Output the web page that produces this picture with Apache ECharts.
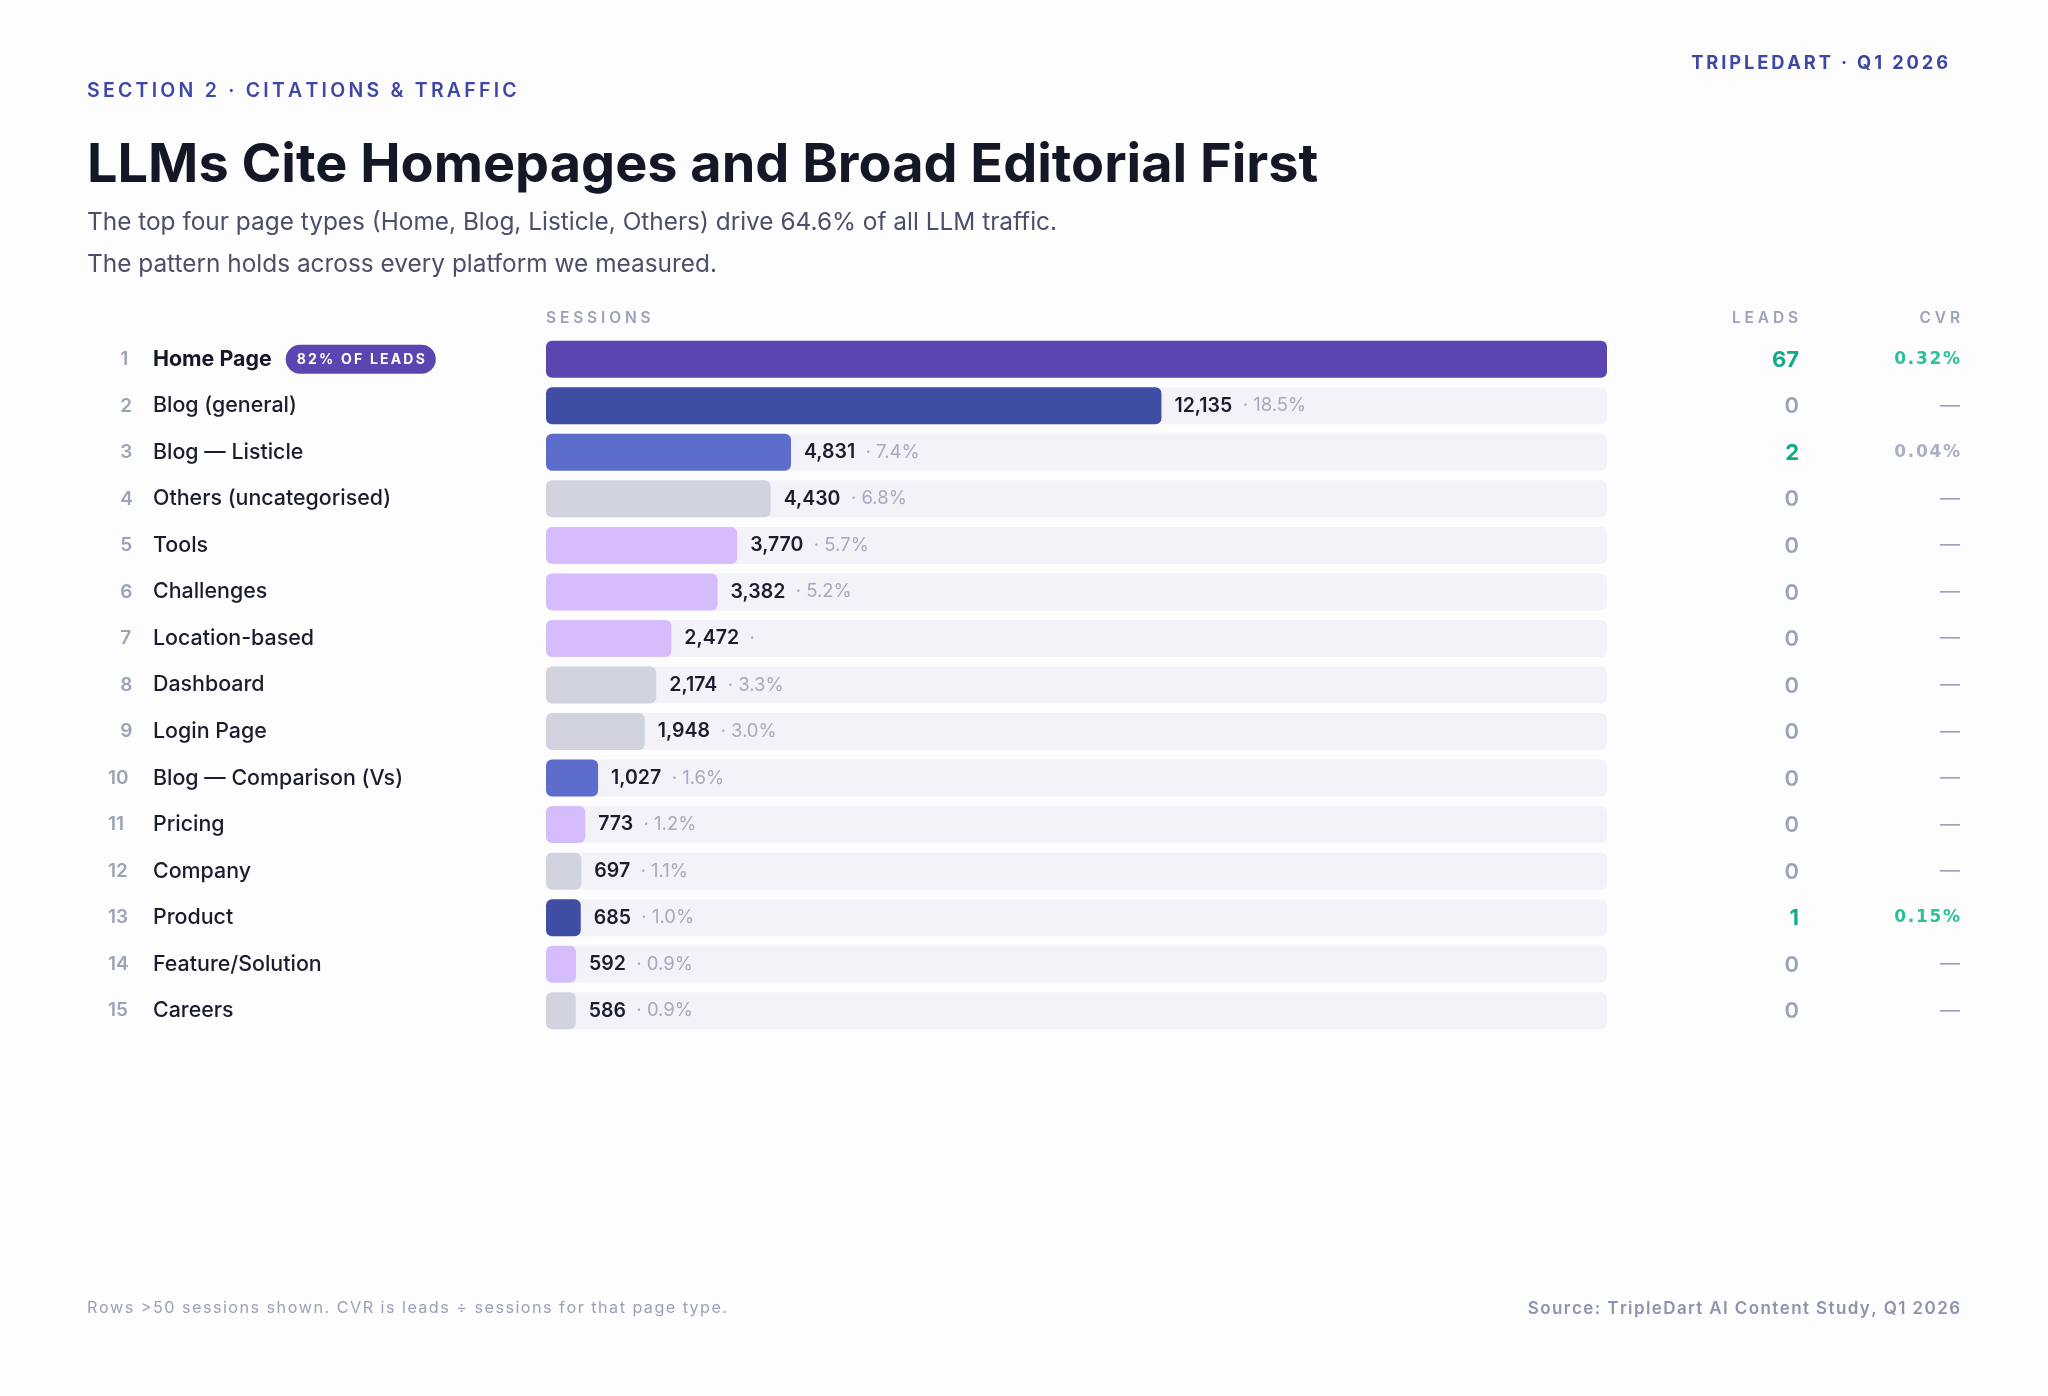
<!DOCTYPE html>
<html>
<head>
<meta charset="utf-8">
<script src="https://cdn.jsdelivr.net/npm/echarts@6/dist/echarts.min.js"></script>
<style>
  html, body { margin: 0; padding: 0; background: #fdfdfe; }
  #chart { width: 2048px; height: 1396px; }
</style>
</head>
<body>
<div id="chart"></div>
<script>
// Page types, ordered by sessions
const pageTypes = [
  'Home Page', 'Blog (general)', 'Blog — Listicle', 'Others (uncategorised)', 'Tools',
  'Challenges', 'Location-based', 'Dashboard', 'Login Page', 'Blog — Comparison (Vs)',
  'Pricing', 'Company', 'Product', 'Feature/Solution', 'Careers'
];
const pageGroup = [
  'home', 'blog', 'blogSub', 'other', 'tool',
  'tool', 'tool', 'other', 'other', 'blogSub',
  'tool', 'other', 'blog', 'tool', 'other'
];
const sessions = [20920, 12135, 4831, 4430, 3770, 3382, 2472, 2174, 1948, 1027, 773, 697, 685, 592, 586];
const sharePct = ['', '18.5%', '7.4%', '6.8%', '5.7%', '5.2%', '', '3.3%', '3.0%', '1.6%', '1.2%', '1.1%', '1.0%', '0.9%', '0.9%'];
const leads = [67, 0, 2, 0, 0, 0, 0, 0, 0, 0, 0, 0, 1, 0, 0];
const cvr = ['0.32%', '—', '0.04%', '—', '—', '—', '—', '—', '—', '—', '—', '—', '0.15%', '—', '—'];
const homeBadge = '82% OF LEADS';

const palette = {
  home: '#5b45b0',
  blog: '#3f4ea3',
  blogSub: '#5d6dcb',
  other: '#d1d3df',
  tool: '#d5bdfb'
};

const FONT = 'Inter, "Noto Sans", sans-serif';
const HAIR = '\u200A';
const THIN = '\u2009';
const spaced = (s, sp) => s.split('').join(sp);

const chart = echarts.init(document.getElementById('chart'));

const numFmt = v => v.toLocaleString('en-US');

chart.setOption({
  backgroundColor: '#fdfdfe',
  animation: false,
  textStyle: { fontFamily: FONT },
  grid: { left: 546, top: 336, width: 1061, height: 698, containLabel: false },
  xAxis: { type: 'value', min: 0, max: Math.max(...sessions), show: false },
  yAxis: [
    {
      type: 'category', data: pageTypes, inverse: true,
      axisLine: { show: false }, axisTick: { show: false },
      axisLabel: {
        align: 'left', margin: 438,
        formatter: (v, i) => {
          const rank = i < 9 ? '\u2007' + (i + 1) : String(i + 1);
          const n = `{num|${rank}}`;
          if (i === 0) return `${n}{nameB|${v}}{gap|\u00a0}{badge|${spaced(homeBadge, THIN)}}`;
          return `${n}{name|${v}}`;
        },
        rich: {
          num: { width: 22, fontSize: 19, fontWeight: 600, color: '#9aa3b8', fontFamily: FONT },
          name: { fontSize: 21.4, fontWeight: 500, color: '#1a1d2e', padding: [0, 0, 0, 23], fontFamily: FONT },
          nameB: { fontSize: 21.4, fontWeight: 700, color: '#141726', padding: [0, 0, 0, 23], fontFamily: FONT },
          gap: { width: 14, fontSize: 10 },
          badge: {
            fontSize: 14, fontWeight: 700, color: '#ffffff', backgroundColor: '#5b45b0',
            borderRadius: 15, padding: [8, 11, 7, 11], fontFamily: FONT
          }
        }
      }
    },
    {
      type: 'category', data: pageTypes, inverse: true, position: 'right',
      axisLine: { show: false }, axisTick: { show: false },
      axisLabel: {
        align: 'right', margin: 192,
        formatter: (v, i) => leads[i] > 0 ? `{hi|${leads[i]}}` : `{lo|${leads[i]}}`,
        rich: {
          hi: { fontSize: 22, fontWeight: 700, color: '#14a98b', fontFamily: FONT, padding: [2, 0, 0, 0] },
          lo: { fontSize: 22, fontWeight: 600, color: '#9aa3b8', fontFamily: FONT, padding: [2, 0, 0, 0] }
        }
      }
    },
    {
      type: 'category', data: pageTypes, inverse: true, position: 'right',
      axisLine: { show: false }, axisTick: { show: false },
      axisLabel: {
        align: 'right', margin: 353,
        formatter: (v, i) => {
          if (cvr[i] === '—') return '{dash|—}';
          const t = spaced(cvr[i], HAIR);
          return parseFloat(cvr[i]) >= 0.1 ? `{hi|${t}}` : `{lo|${t}}`;
        },
        rich: {
          hi: { fontSize: 17, fontWeight: 700, color: '#2bbf9c', fontFamily: '"DejaVu Sans", sans-serif' },
          lo: { fontSize: 17, fontWeight: 700, color: '#aab0c2', fontFamily: '"DejaVu Sans", sans-serif' },
          dash: { fontSize: 20, color: '#9aa3b8', fontFamily: FONT }
        }
      }
    }
  ],
  series: [{
    type: 'bar',
    yAxisIndex: 0,
    barWidth: 37,
    data: sessions.map((v, i) => ({ value: v, itemStyle: { color: palette[pageGroup[i]] } })),
    itemStyle: { borderRadius: 6 },
    showBackground: true,
    backgroundStyle: { color: '#f3f2f9', borderRadius: 6 },
    label: {
      show: true, position: 'right', distance: 13,
      formatter: p => {
        if (p.dataIndex === 0) return '';
        const pct = sharePct[p.dataIndex];
        return `{v|${numFmt(p.value)}}{p|  · ${pct}}`;
      },
      rich: {
        v: { fontSize: 19.5, fontWeight: 600, color: '#1a1d2e', fontFamily: FONT },
        p: { fontSize: 18.5, fontWeight: 400, color: '#a5aabf', fontFamily: FONT }
      }
    }
  }],
  graphic: [
    { type: 'text', left: 87, top: 81, style: { text: spaced('SECTION 2 · CITATIONS & TRAFFIC', THIN), font: `600 19.5px ${FONT}`, fill: '#3e47a6' } },
    { type: 'text', left: 87, top: 139, style: { text: 'LLMs Cite Homepages and Broad Editorial First', font: `700 54px ${FONT}`, fill: '#141726' } },
    { type: 'text', left: 87, top: 211, style: { text: 'The top four page types (Home, Blog, Listicle, Others) drive 64.6% of all LLM traffic.', font: `400 24.4px ${FONT}`, fill: '#4b5068' } },
    { type: 'text', left: 87, top: 253, style: { text: 'The pattern holds across every platform we measured.', font: `400 24.4px ${FONT}`, fill: '#4b5068' } },
    { type: 'text', right: 100, top: 55, style: { text: spaced('TRIPLEDART · Q1 2026', THIN), font: `700 18.3px ${FONT}`, fill: '#3e47a6' } },
    { type: 'text', left: 546, top: 310, style: { text: spaced('SESSIONS', THIN + HAIR), font: `600 15.5px ${FONT}`, fill: '#9ba1b6' } },
    { type: 'text', right: 250, top: 310, style: { text: spaced('LEADS', THIN + HAIR), font: `600 15.5px ${FONT}`, fill: '#9ba1b6' } },
    { type: 'text', right: 88, top: 310, style: { text: spaced('CVR', THIN + HAIR), font: `600 15.5px ${FONT}`, fill: '#9ba1b6' } },
    { type: 'text', left: 87, top: 1300, style: { text: spaced('Rows >50 sessions shown. CVR is leads ÷ sessions for that page type.', HAIR), font: `400 16.2px ${FONT}`, fill: '#9ba1b6' } },
    { type: 'text', right: 88, top: 1300, style: { text: spaced('Source: TripleDart AI Content Study, Q1 2026', HAIR), font: `600 17px ${FONT}`, fill: '#8e94ab' } }
  ]
});

window.addEventListener('resize', () => chart.resize());
</script>
</body>
</html>
